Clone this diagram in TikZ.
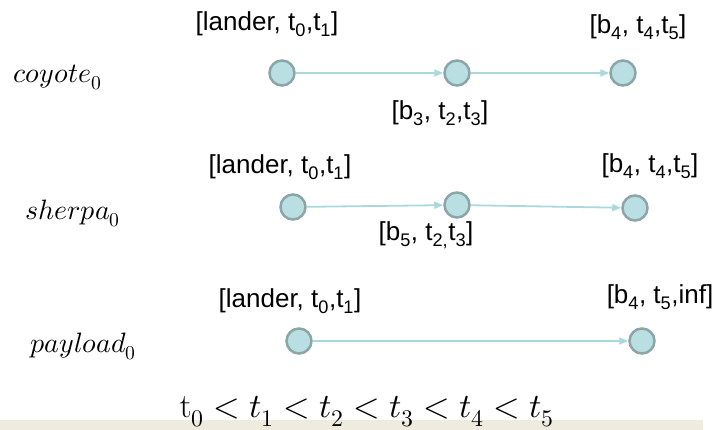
\documentclass[tikz,border=0pt]{standalone}
\usepackage{unicode-math}
\setmathfont{Latin Modern Math}
\newfontfamily\labfont{Liberation Sans}
\usetikzlibrary{arrows.meta}
\definecolor{nodefill}{HTML}{B9DFE3}
\definecolor{nodeline}{HTML}{8AA6A6}
\definecolor{edgecol}{HTML}{A9D9DD}
\definecolor{bandcol}{HTML}{EEEBDF}
\begin{document}
\begin{tikzpicture}[x=1pt,y=-1pt,
  state/.style={circle,draw=nodeline,fill=nodefill,line width=2.5pt,minimum size=25pt,inner sep=0pt},
  edge/.style={draw=edgecol,line width=1.8pt,-{Triangle[length=9pt,width=7pt]}},
  lab/.style={font=\labfont\fontsize{26}{30}\selectfont,inner sep=0pt},
  agent/.style={font=\fontsize{28}{34}\selectfont,inner sep=0pt,anchor=base west}]
\useasboundingbox (0,0) rectangle (716,430);
\fill[bandcol] (0,420) rectangle (703,430);
% coyote row
\node[agent] (ca) at (13,83) {$coyote_0$};
\node[state] (c1) at (282,73) {};
\node[state] (c2) at (457,73) {};
\node[state] (c3) at (623,73) {};
\draw[edge] (c1) -- (c2);
\draw[edge] (c2) -- (c3);
\node[lab] (cl1) at (267,24) {[lander, t\textsubscript{0},t\textsubscript{1}]};
\node[lab] (cl2) at (440,113) {[b\textsubscript{3}, t\textsubscript{2},t\textsubscript{3}]};
\node[lab] (cl3) at (638,27) {[b\textsubscript{4}, t\textsubscript{4},t\textsubscript{5}]};
% sherpa row
\node[agent] (sa) at (25,220) {$sherpa_0$};
\node[state] (s1) at (293,207) {};
\node[state] (s2) at (457,205) {};
\node[state] (s3) at (635,208) {};
\draw[edge] (s1) -- (s2);
\draw[edge] (s2) -- (s3);
\node[lab] (sl1) at (280,167) {[lander, t\textsubscript{0},t\textsubscript{1}]};
\node[lab] (sl2) at (426,235) {[b\textsubscript{5}, t\textsubscript{2,}t\textsubscript{3}]};
\node[lab] (sl3) at (650,166) {[b\textsubscript{4}, t\textsubscript{4},t\textsubscript{5}]};
% payload row
\node[agent] (pa) at (30,353) {$payload_0$};
\node[state] (p1) at (299,341) {};
\node[state] (p2) at (642,341) {};
\draw[edge] (p1) -- (p2);
\node[lab] (pl1) at (290,301) {[lander, t\textsubscript{0},t\textsubscript{1}]};
\node[lab] (pl2) at (660,297) {[b\textsubscript{4}, t\textsubscript{5},inf]};
% ordering
\node[font=\fontsize{34}{40}\selectfont,inner sep=0pt,anchor=base] (ord) at (367,418)
  {$\mathrm{t}_0 < t_1 < t_2 < t_3 < t_4 < t_5$};
\end{tikzpicture}
\end{document}
